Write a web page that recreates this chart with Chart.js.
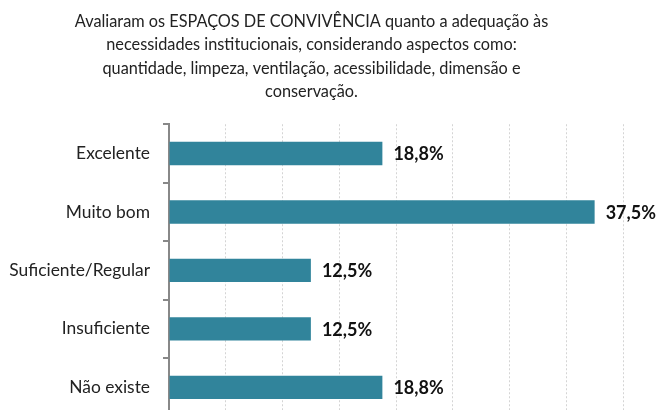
<!DOCTYPE html>
<html>
<head>
<meta charset="utf-8">
<script src="https://cdn.jsdelivr.net/npm/chart.js@4/dist/chart.umd.min.js"></script>
<style>
  html, body { margin: 0; padding: 0; background: #fff; overflow: hidden; }
  canvas { display: block; }
</style>
</head>
<body>
<canvas id="c" width="657" height="440"></canvas>
<script>
const titleLines = [
  'Avaliaram os ESPAÇOS DE CONVIVÊNCIA quanto a adequação às',
  'necessidades institucionais, considerando aspectos como:',
  'quantidade, limpeza, ventilação, acessibilidade, dimensão e',
  'conservação.'
];
const categories = ['Excelente', 'Muito bom', 'Suficiente/Regular', 'Insuficiente', 'Não existe'];
const percentages = [18.8, 37.5, 12.5, 12.5, 18.8];
const axisMax = 40;
const axisStep = 5;

const FONT = 'Lato, "Liberation Sans", sans-serif';

// Writes each bar's value to the right of it, e.g. "18,8%"
const valueLabels = {
  id: 'valueLabels',
  afterDatasetsDraw(chart) {
    const ctx = chart.ctx;
    const meta = chart.getDatasetMeta(0);
    ctx.save();
    ctx.font = 'bold 18px ' + FONT;
    ctx.fillStyle = '#111';
    ctx.textAlign = 'left';
    ctx.textBaseline = 'middle';
    meta.data.forEach((bar, i) => {
      const v = chart.data.datasets[0].data[i];
      ctx.fillText(v.toFixed(1).replace('.', ',') + '%', bar.x + 11, bar.y + 1);
    });
    ctx.restore();
  }
};

new Chart(document.getElementById('c'), {
  type: 'bar',
  data: {
    labels: categories,
    datasets: [{
      data: percentages,
      backgroundColor: '#31849b',
      borderWidth: 0,
      barPercentage: 0.4,
      categoryPercentage: 1.0
    }]
  },
  options: {
    indexAxis: 'y',
    responsive: false,
    animation: false,
    devicePixelRatio: 1,
    layout: { padding: { left: 0, right: 34, top: 10, bottom: 0 } },
    plugins: {
      legend: { display: false },
      tooltip: { enabled: false },
      title: {
        display: true,
        text: titleLines,
        color: '#222',
        font: { family: FONT, size: 16.3, weight: 'normal', lineHeight: 1.43 },
        padding: { top: 0, bottom: 21 }
      }
    },
    scales: {
      x: {
        min: 0,
        max: axisMax,
        ticks: { display: false, stepSize: axisStep },
        grid: {
          color: '#d4d4d4',
          lineWidth: 1,
          drawTicks: false
        },
        border: { display: false, dash: [2, 2] },
        afterFit(scale) { scale.height = 0; }
      },
      y: {
        ticks: {
          color: '#222',
          font: { family: FONT, size: 17.4 },
          padding: 13
        },
        grid: {
          offset: true,
          drawOnChartArea: false,
          drawTicks: true,
          tickLength: 6,
          color: '#888',
          lineWidth: 2
        },
        border: { color: '#888', width: 2 },
        afterFit(scale) { scale.width = 169; }
      }
    }
  },
  plugins: [valueLabels]
});
</script>
</body>
</html>
